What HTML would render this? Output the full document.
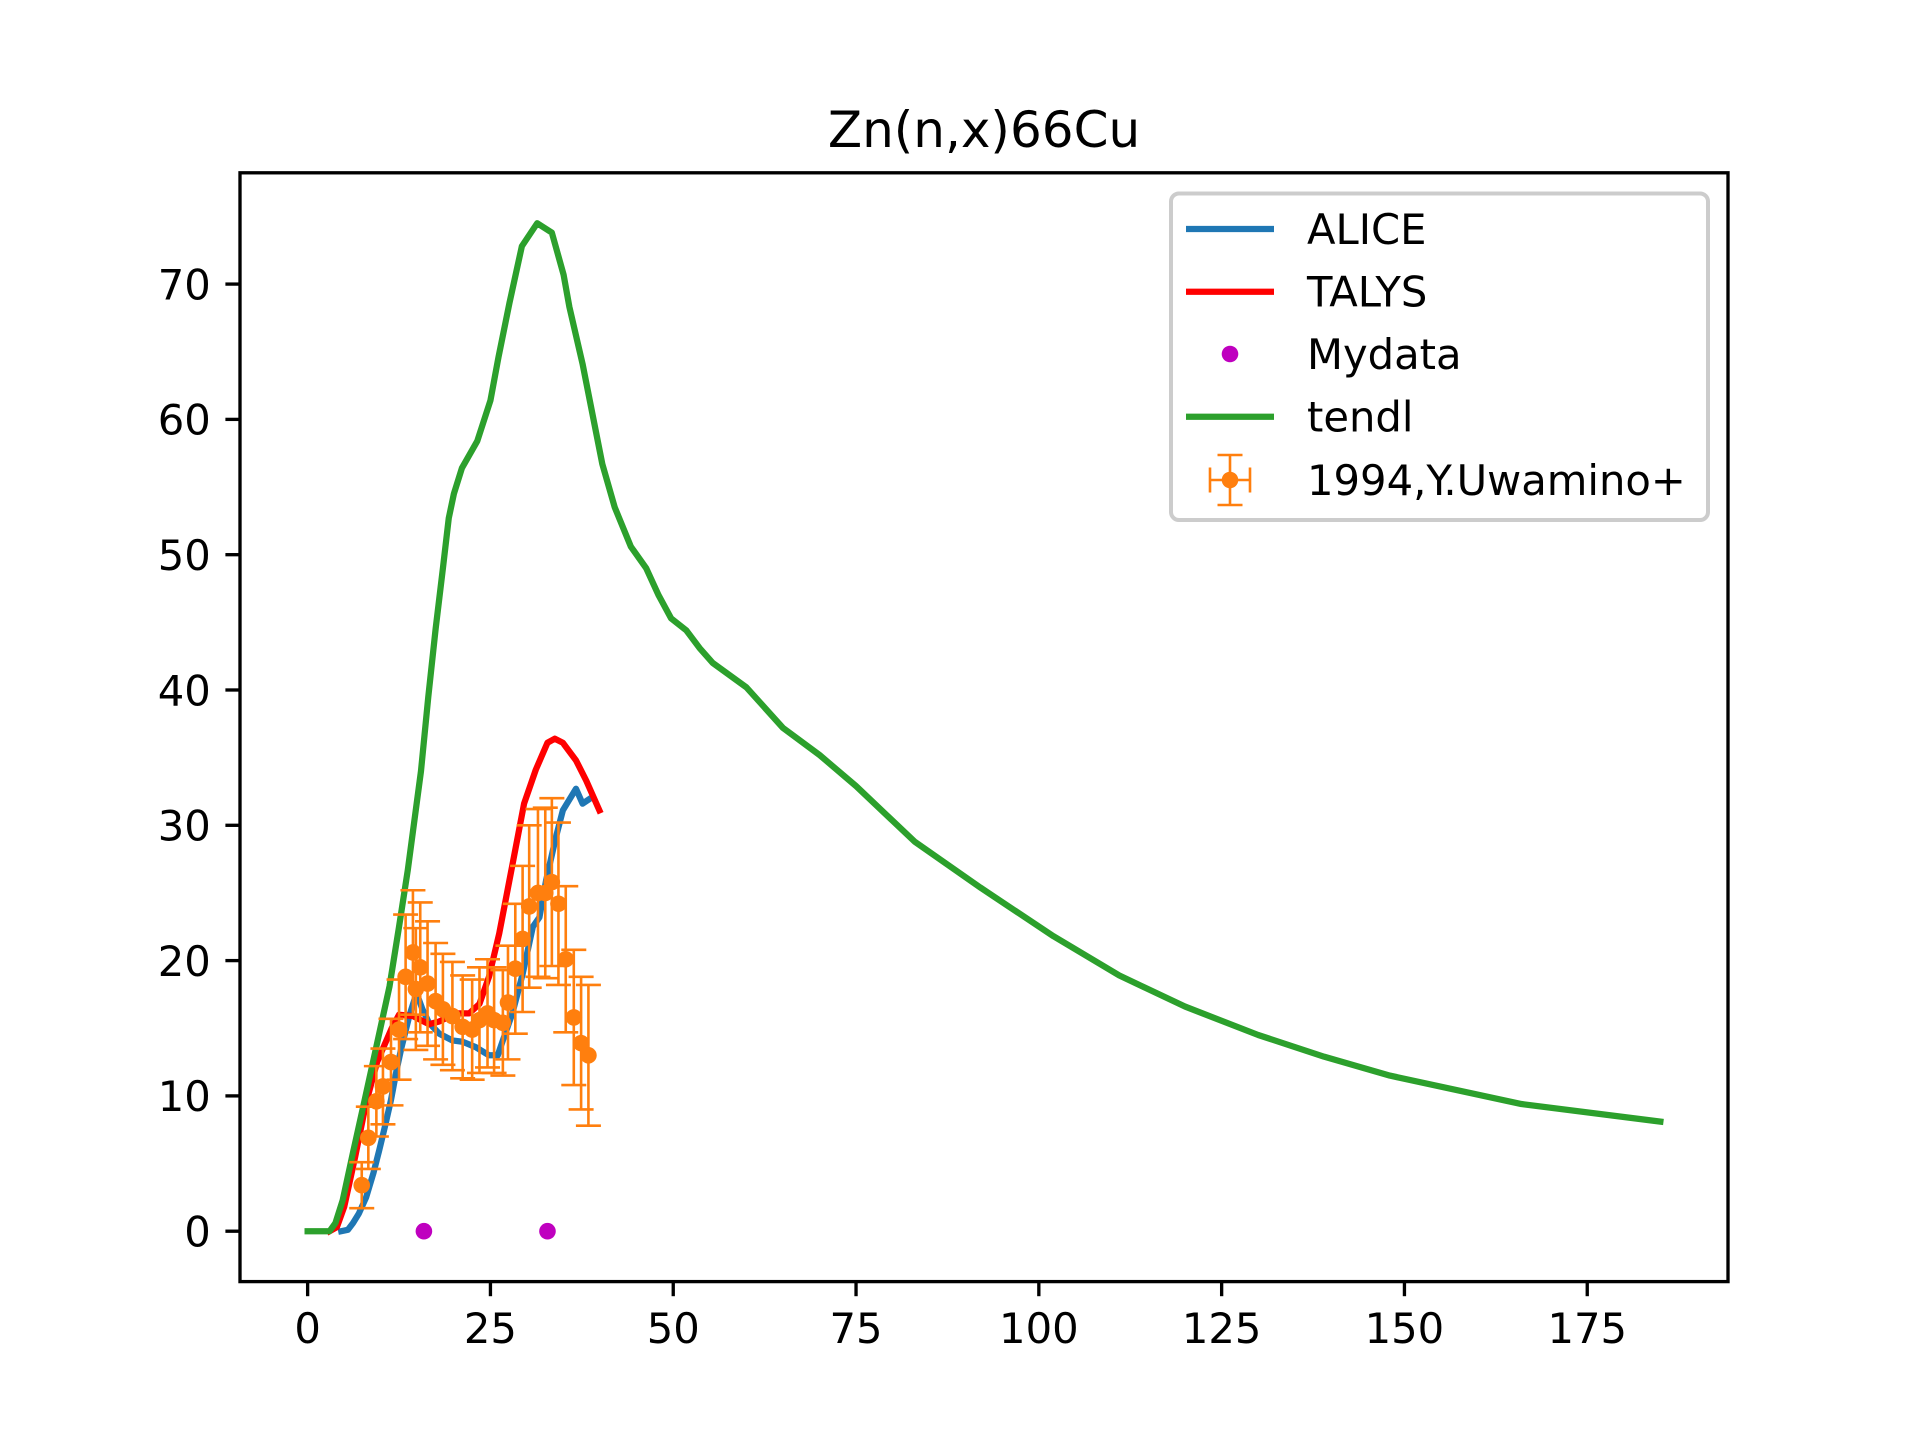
<!DOCTYPE html>
<html><head><meta charset="utf-8"><title>Zn(n,x)66Cu</title>
<style>
html,body{margin:0;padding:0;background:#fff;}
svg{display:block;font-family:"DejaVu Sans","Liberation Sans",sans-serif;}
</style></head>
<body>
<svg id="chart" width="1920" height="1440" viewBox="0 0 1920 1440" xmlns="http://www.w3.org/2000/svg">
<rect x="0" y="0" width="1920" height="1440" fill="#fff"/>
<text x="984" y="147" font-size="50" text-anchor="middle" fill="#000">Zn(n,x)66Cu</text>
<g id="plot"></g>
</svg>
<script>
const xTicks = [0, 25, 50, 75, 100, 125, 150, 175];
const xTickLabels = ["0", "25", "50", "75", "100", "125", "150", "175"];
const yTicks = [0, 10, 20, 30, 40, 50, 60, 70];
const yTickLabels = ["0", "10", "20", "30", "40", "50", "60", "70"];

const aliceX = [4.6,5.5,6.2,7,8,9,9.8,10.6,11.4,12.2,12.8,13.9,14.6,15.1,15.7,16.6,18,19.8,21.2,23,24.8,26,26.7,28,29.4,30.8,31.7,32.6,33.9,34.9,36.7,37.6,38.7];
const aliceY = [0,0.1,0.6,1.3,2.5,4.3,6,7.8,9.7,12,13.5,15.9,17.1,17.3,16.4,15.4,14.6,14.1,14,13.6,13,13,14.1,16.1,19,22.5,23.2,25.9,29,31.1,32.7,31.6,32];

const talysX = [3,4,5,6.5,8,9.5,10.3,11.5,12.5,14.4,16.6,18,20.3,22.1,23.5,24.8,26.2,27.8,29.6,31.2,32.8,33.8,34.9,36.7,38.1,39.9];
const talysY = [0,0.3,1.8,5.5,9.5,12.5,13.5,15,16,15.9,15.3,15.5,16.1,16.1,16.8,18.8,22,26.5,31.6,34.1,36.1,36.4,36.1,34.8,33.3,31.1];

const mydataX = [15.9, 32.8];
const mydataY = [0, 0];

const tendlX = [0,3,3.8,4.8,6.2,7.8,9.3,11.2,12.5,13.7,15.5,16.5,17.5,18.5,19.3,20,21.1,23.2,25,26.1,27.6,29.3,31.4,33.4,35,35.8,37.6,40.3,42,44.2,46.3,48,49.7,51.8,53.6,55.4,60,65,70,75,83,92,102,111,120,130,139,148,166,185];
const tendlY = [0,0,0.6,2.3,5.8,9.7,13.4,18.1,22.5,26.7,34,39.5,44.5,49,52.7,54.5,56.4,58.4,61.4,64.6,68.6,72.8,74.5,73.8,70.7,68.3,64.1,56.7,53.5,50.6,49,47,45.3,44.4,43.1,42,40.2,37.2,35.2,32.9,28.8,25.4,21.8,18.9,16.6,14.5,12.9,11.5,9.4,8.1];

const expX = [7.4,8.3,9.4,10.3,11.4,12.5,13.4,14.4,14.8,15.4,16.4,17.5,18.5,19.8,21.2,22.5,23.5,24.6,25.5,26.7,27.4,28.4,29.4,30.3,31.5,32.5,33.4,34.3,35.3,36.4,37.4,38.4];
const expY = [3.4,6.9,9.6,10.7,12.5,14.9,18.8,20.6,17.9,19.5,18.3,17,16.4,15.9,15.1,14.9,15.6,16.1,15.6,15.4,16.9,19.4,21.6,24,25,25,25.8,24.2,20.1,15.8,13.9,13];
const expYErr = [1.7,2.3,2.6,2.8,3.2,3.7,4.6,4.6,4.5,4.8,4.6,4.3,4.1,4,3.8,3.7,3.9,4,3.9,3.9,4.2,4.8,5.4,6,6.2,6.3,6.2,6,5.4,5,4.9,5.2];

const NS = "http://www.w3.org/2000/svg";
const L = 240, R = 1728, T = 172.8, B = 1281.6;
const xMin = -9.25, xMax = 194.25, yMin = -3.725, yMax = 78.225;
function sx(v){ return L + (v - xMin) / (xMax - xMin) * (R - L); }
function sy(v){ return B - (v - yMin) / (yMax - yMin) * (B - T); }
const plot = document.getElementById('plot');
function mk(tag, attrs, parent){
  const e = document.createElementNS(NS, tag);
  for (const k in attrs) e.setAttribute(k, attrs[k]);
  (parent || plot).appendChild(e);
  return e;
}
function pathOf(xs, ys){
  return xs.map((x,i)=>(i?'L':'M')+sx(x).toFixed(2)+' '+sy(ys[i]).toFixed(2)).join(' ');
}

const defs = mk('defs', {});
const cp = mk('clipPath', {id:'clip'}, defs);
mk('rect', {x:L, y:T, width:R-L, height:B-T}, cp);
const g = mk('g', {'clip-path':'url(#clip)'});



let p = mk('path', {d:pathOf(aliceX, aliceY), fill:'none', stroke:'#1f77b4', 'stroke-width':6.25, 'stroke-linejoin':'round', 'stroke-linecap':'square'}, g);


p = mk('path', {d:pathOf(talysX, talysY), fill:'none', stroke:'#ff0000', 'stroke-width':6.25, 'stroke-linejoin':'round', 'stroke-linecap':'square'}, g);


mydataX.forEach((x,i)=>{
  const c = mk('circle', {cx:sx(x), cy:sy(mydataY[i]), r:8.3, fill:'#bf00bf'}, g);
  
  
});
p = mk('path', {d:pathOf(tendlX, tendlY), fill:'none', stroke:'#2ca02c', 'stroke-width':6.25, 'stroke-linejoin':'round', 'stroke-linecap':'square'}, g);


const cap = 12.5;
expX.forEach((x,i)=>{
  const eg = mk('g', {stroke:'#ff7f0e', 'stroke-width':2.6, fill:'none'}, g);
  
  
  const X = sx(x);
  const yt = sy(expY[i] + expYErr[i]), yb = sy(expY[i] - expYErr[i]);
  mk('line', {x1:X, y1:yt, x2:X, y2:yb}, eg);
  mk('line', {x1:X-cap, y1:yt, x2:X+cap, y2:yt}, eg);
  mk('line', {x1:X-cap, y1:yb, x2:X+cap, y2:yb}, eg);
});
expX.forEach((x,i)=>{
  const c = mk('circle', {cx:sx(x), cy:sy(expY[i]), r:8.3, fill:'#ff7f0e'}, g);
  
  
});

const frame = mk('rect', {x:L, y:T, width:R-L, height:B-T, fill:'none', stroke:'#000', 'stroke-width':3.33});



xTicks.forEach((v,i)=>{
  const X = sx(v);
  const t = mk('line', {x1:X, y1:B, x2:X, y2:B+14.6, stroke:'#000', 'stroke-width':3.33});
  
  
  const tx = mk('text', {x:X, y:B+61.5, 'font-size':41.7, 'text-anchor':'middle', fill:'#000'});
  tx.textContent = xTickLabels[i];
  
  
});
yTicks.forEach((v,i)=>{
  const Y = sy(v);
  const t = mk('line', {x1:L-14.6, y1:Y, x2:L, y2:Y, stroke:'#000', 'stroke-width':3.33});
  
  
  const tx = mk('text', {x:L-29.2, y:Y+15.3, 'font-size':41.7, 'text-anchor':'end', fill:'#000'});
  tx.textContent = yTickLabels[i];
  
  
});

const lg = mk('g', {});


const lb = mk('rect', {x:1171, y:193.5, width:537, height:326.5, rx:8, ry:8, fill:'#fff', 'fill-opacity':0.8, stroke:'#cccccc', 'stroke-width':4}, lg);


const rows = [229, 291.7, 354, 416.7, 480];
const names = ['ALICE','TALYS','Mydata','tendl','1994,Y.Uwamino+'];
const hx1 = 1186, hx2 = 1274, hc = 1230;
names.forEach((n,i)=>{
  const eg = mk('g', {}, lg);
  
  
  const Y = rows[i];
  if (i===0 || i===1 || i===3) {
    mk('line', {x1:hx1, y1:Y, x2:hx2, y2:Y, stroke:['#1f77b4','#ff0000','','#2ca02c'][i], 'stroke-width':6.25}, eg);
  } else if (i===2) {
    mk('circle', {cx:hc, cy:Y, r:8.3, fill:'#bf00bf'}, eg);
  } else {
    const s = {stroke:'#ff7f0e', 'stroke-width':2.6};
    mk('line', Object.assign({x1:hc-20, y1:Y, x2:hc+20, y2:Y}, s), eg);
    mk('line', Object.assign({x1:hc, y1:Y-25, x2:hc, y2:Y+25}, s), eg);
    mk('line', Object.assign({x1:hc-12.5, y1:Y-25, x2:hc+12.5, y2:Y-25}, s), eg);
    mk('line', Object.assign({x1:hc-12.5, y1:Y+25, x2:hc+12.5, y2:Y+25}, s), eg);
    mk('line', Object.assign({x1:hc-20, y1:Y-12.5, x2:hc-20, y2:Y+12.5}, s), eg);
    mk('line', Object.assign({x1:hc+20, y1:Y-12.5, x2:hc+20, y2:Y+12.5}, s), eg);
    mk('circle', {cx:hc, cy:Y, r:8.3, fill:'#ff7f0e'}, eg);
  }
  const t = mk('text', {x:1307, y:Y+15, 'font-size':41.7, fill:'#000'}, eg);
  t.textContent = n;
});
</script>
</body></html>
